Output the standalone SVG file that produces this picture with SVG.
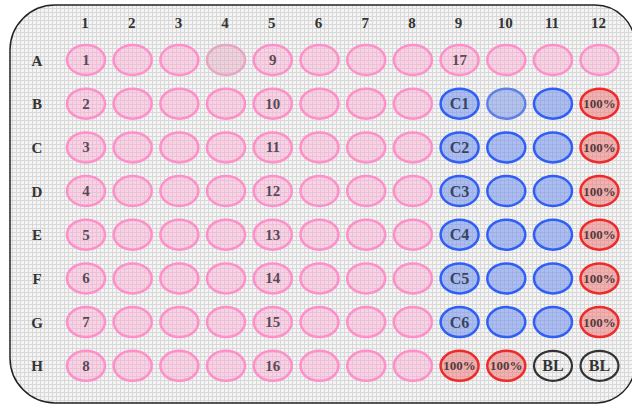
<svg xmlns="http://www.w3.org/2000/svg" width="632" height="404" viewBox="0 0 632 404">
<defs>
<pattern id="grid" width="4" height="4" patternUnits="userSpaceOnUse">
<rect width="4" height="4" fill="#f4f4f4"/>
<path d="M0 0.5H4M0.5 0V4" stroke="#d8d8d8" stroke-width="1"/>
</pattern>
<style>
.hd{font-family:"Liberation Serif",serif;font-weight:bold;font-size:15px;fill:#333;text-anchor:middle}
.wt{font-family:"Liberation Serif",serif;font-weight:bold;font-size:15px;text-anchor:middle;dominant-baseline:central}
.pk{fill:#ffa8d2;fill-opacity:0.45;stroke:#ff8fc8;stroke-width:2.5}
.pg{fill:#e6a8c4;fill-opacity:0.45;stroke:#e8a4c4;stroke-width:2.5}
.bl{fill:#6f8fee;fill-opacity:0.55;stroke:#2f5ff5;stroke-width:2.5}
.bl2{fill:#7f9ae8;fill-opacity:0.55;stroke:#5f80ea;stroke-width:2.5}
.rd{fill:#f07a7a;fill-opacity:0.55;stroke:#ee2a2a;stroke-width:2.5}
.bk{fill:none;stroke:#333;stroke-width:2.2}
.tp{fill:#5a4a55}
.tb{fill:#38445e;font-size:16px}
.tr{fill:#553a3a;font-size:13px}
.tk{fill:#333;font-size:16px}
</style>
</defs>
<rect width="632" height="404" fill="#ffffff"/>
<path id="plate" d="M10 50 A45 45 0 0 1 55 5 L595 5 A40 40 0 0 1 635 45 L635 368 A40 40 0 0 1 597 403 L55 403 A45 45 0 0 1 10 358 Z" fill="url(#grid)" stroke="#222" stroke-width="1.5"/>
<g id="headers">
<text class="hd" x="85" y="28">1</text>
<text class="hd" x="131.7" y="28">2</text>
<text class="hd" x="178.4" y="28">3</text>
<text class="hd" x="225" y="28">4</text>
<text class="hd" x="271.8" y="28">5</text>
<text class="hd" x="318.5" y="28">6</text>
<text class="hd" x="365.2" y="28">7</text>
<text class="hd" x="411.9" y="28">8</text>
<text class="hd" x="458.6" y="28">9</text>
<text class="hd" x="505.3" y="28">10</text>
<text class="hd" x="552" y="28">11</text>
<text class="hd" x="598.5" y="28">12</text>
<text class="hd" x="37" y="65.5">A</text>
<text class="hd" x="37" y="109">B</text>
<text class="hd" x="37" y="153">C</text>
<text class="hd" x="37" y="196.5">D</text>
<text class="hd" x="37" y="240">E</text>
<text class="hd" x="37" y="284">F</text>
<text class="hd" x="37" y="327.5">G</text>
<text class="hd" x="37" y="371">H</text>
</g>
<g id="wells">
<g id="A"><ellipse class="pk" cx="86" cy="60" rx="19" ry="15"/><text class="wt tp" x="86" y="60">1</text>
<ellipse class="pk" cx="132.7" cy="60" rx="19" ry="15"/><ellipse class="pk" cx="179.4" cy="60" rx="19" ry="15"/><ellipse class="pg" cx="226" cy="60" rx="19" ry="15"/>
<ellipse class="pk" cx="272.8" cy="60" rx="19" ry="15"/><text class="wt tp" x="272.8" y="60">9</text>
<ellipse class="pk" cx="319.5" cy="60" rx="19" ry="15"/><ellipse class="pk" cx="366.2" cy="60" rx="19" ry="15"/><ellipse class="pk" cx="412.9" cy="60" rx="19" ry="15"/>
<ellipse class="pk" cx="459.6" cy="60" rx="19" ry="15"/><text class="wt tp" x="459.6" y="60">17</text>
<ellipse class="pk" cx="506.3" cy="60" rx="19" ry="15"/><ellipse class="pk" cx="553" cy="60" rx="19" ry="15"/><ellipse class="pk" cx="599.5" cy="60" rx="19" ry="15"/></g>
<g id="B"><ellipse class="pk" cx="86" cy="103.7" rx="19" ry="15"/><text class="wt tp" x="86" y="103.7">2</text>
<ellipse class="pk" cx="132.7" cy="103.7" rx="19" ry="15"/><ellipse class="pk" cx="179.4" cy="103.7" rx="19" ry="15"/><ellipse class="pk" cx="226" cy="103.7" rx="19" ry="15"/>
<ellipse class="pk" cx="272.8" cy="103.7" rx="19" ry="15"/><text class="wt tp" x="272.8" y="103.7">10</text>
<ellipse class="pk" cx="319.5" cy="103.7" rx="19" ry="15"/><ellipse class="pk" cx="366.2" cy="103.7" rx="19" ry="15"/><ellipse class="pk" cx="412.9" cy="103.7" rx="19" ry="15"/>
<ellipse class="bl" cx="459.6" cy="103.7" rx="19" ry="15"/><text class="wt tb" x="459.6" y="103.7">C1</text>
<ellipse class="bl2" cx="506.3" cy="103.7" rx="19" ry="15"/><ellipse class="bl" cx="553" cy="103.7" rx="19" ry="15"/>
<ellipse class="rd" cx="599.5" cy="103.7" rx="19" ry="15"/><text class="wt tr" x="599.5" y="103.7">100%</text></g>
<g id="C"><ellipse class="pk" cx="86" cy="147.4" rx="19" ry="15"/><text class="wt tp" x="86" y="147.4">3</text>
<ellipse class="pk" cx="132.7" cy="147.4" rx="19" ry="15"/><ellipse class="pk" cx="179.4" cy="147.4" rx="19" ry="15"/><ellipse class="pk" cx="226" cy="147.4" rx="19" ry="15"/>
<ellipse class="pk" cx="272.8" cy="147.4" rx="19" ry="15"/><text class="wt tp" x="272.8" y="147.4">11</text>
<ellipse class="pk" cx="319.5" cy="147.4" rx="19" ry="15"/><ellipse class="pk" cx="366.2" cy="147.4" rx="19" ry="15"/><ellipse class="pk" cx="412.9" cy="147.4" rx="19" ry="15"/>
<ellipse class="bl" cx="459.6" cy="147.4" rx="19" ry="15"/><text class="wt tb" x="459.6" y="147.4">C2</text>
<ellipse class="bl" cx="506.3" cy="147.4" rx="19" ry="15"/><ellipse class="bl" cx="553" cy="147.4" rx="19" ry="15"/>
<ellipse class="rd" cx="599.5" cy="147.4" rx="19" ry="15"/><text class="wt tr" x="599.5" y="147.4">100%</text></g>
<g id="D"><ellipse class="pk" cx="86" cy="191" rx="19" ry="15"/><text class="wt tp" x="86" y="191">4</text>
<ellipse class="pk" cx="132.7" cy="191" rx="19" ry="15"/><ellipse class="pk" cx="179.4" cy="191" rx="19" ry="15"/><ellipse class="pk" cx="226" cy="191" rx="19" ry="15"/>
<ellipse class="pk" cx="272.8" cy="191" rx="19" ry="15"/><text class="wt tp" x="272.8" y="191">12</text>
<ellipse class="pk" cx="319.5" cy="191" rx="19" ry="15"/><ellipse class="pk" cx="366.2" cy="191" rx="19" ry="15"/><ellipse class="pk" cx="412.9" cy="191" rx="19" ry="15"/>
<ellipse class="bl" cx="459.6" cy="191" rx="19" ry="15"/><text class="wt tb" x="459.6" y="191">C3</text>
<ellipse class="bl" cx="506.3" cy="191" rx="19" ry="15"/><ellipse class="bl" cx="553" cy="191" rx="19" ry="15"/>
<ellipse class="rd" cx="599.5" cy="191" rx="19" ry="15"/><text class="wt tr" x="599.5" y="191">100%</text></g>
<g id="E"><ellipse class="pk" cx="86" cy="234.7" rx="19" ry="15"/><text class="wt tp" x="86" y="234.7">5</text>
<ellipse class="pk" cx="132.7" cy="234.7" rx="19" ry="15"/><ellipse class="pk" cx="179.4" cy="234.7" rx="19" ry="15"/><ellipse class="pk" cx="226" cy="234.7" rx="19" ry="15"/>
<ellipse class="pk" cx="272.8" cy="234.7" rx="19" ry="15"/><text class="wt tp" x="272.8" y="234.7">13</text>
<ellipse class="pk" cx="319.5" cy="234.7" rx="19" ry="15"/><ellipse class="pk" cx="366.2" cy="234.7" rx="19" ry="15"/><ellipse class="pk" cx="412.9" cy="234.7" rx="19" ry="15"/>
<ellipse class="bl" cx="459.6" cy="234.7" rx="19" ry="15"/><text class="wt tb" x="459.6" y="234.7">C4</text>
<ellipse class="bl" cx="506.3" cy="234.7" rx="19" ry="15"/><ellipse class="bl" cx="553" cy="234.7" rx="19" ry="15"/>
<ellipse class="rd" cx="599.5" cy="234.7" rx="19" ry="15"/><text class="wt tr" x="599.5" y="234.7">100%</text></g>
<g id="F"><ellipse class="pk" cx="86" cy="278.4" rx="19" ry="15"/><text class="wt tp" x="86" y="278.4">6</text>
<ellipse class="pk" cx="132.7" cy="278.4" rx="19" ry="15"/><ellipse class="pk" cx="179.4" cy="278.4" rx="19" ry="15"/><ellipse class="pk" cx="226" cy="278.4" rx="19" ry="15"/>
<ellipse class="pk" cx="272.8" cy="278.4" rx="19" ry="15"/><text class="wt tp" x="272.8" y="278.4">14</text>
<ellipse class="pk" cx="319.5" cy="278.4" rx="19" ry="15"/><ellipse class="pk" cx="366.2" cy="278.4" rx="19" ry="15"/><ellipse class="pk" cx="412.9" cy="278.4" rx="19" ry="15"/>
<ellipse class="bl" cx="459.6" cy="278.4" rx="19" ry="15"/><text class="wt tb" x="459.6" y="278.4">C5</text>
<ellipse class="bl" cx="506.3" cy="278.4" rx="19" ry="15"/><ellipse class="bl" cx="553" cy="278.4" rx="19" ry="15"/>
<ellipse class="rd" cx="599.5" cy="278.4" rx="19" ry="15"/><text class="wt tr" x="599.5" y="278.4">100%</text></g>
<g id="G"><ellipse class="pk" cx="86" cy="322.1" rx="19" ry="15"/><text class="wt tp" x="86" y="322.1">7</text>
<ellipse class="pk" cx="132.7" cy="322.1" rx="19" ry="15"/><ellipse class="pk" cx="179.4" cy="322.1" rx="19" ry="15"/><ellipse class="pk" cx="226" cy="322.1" rx="19" ry="15"/>
<ellipse class="pk" cx="272.8" cy="322.1" rx="19" ry="15"/><text class="wt tp" x="272.8" y="322.1">15</text>
<ellipse class="pk" cx="319.5" cy="322.1" rx="19" ry="15"/><ellipse class="pk" cx="366.2" cy="322.1" rx="19" ry="15"/><ellipse class="pk" cx="412.9" cy="322.1" rx="19" ry="15"/>
<ellipse class="bl" cx="459.6" cy="322.1" rx="19" ry="15"/><text class="wt tb" x="459.6" y="322.1">C6</text>
<ellipse class="bl" cx="506.3" cy="322.1" rx="19" ry="15"/><ellipse class="bl" cx="553" cy="322.1" rx="19" ry="15"/>
<ellipse class="rd" cx="599.5" cy="322.1" rx="19" ry="15"/><text class="wt tr" x="599.5" y="322.1">100%</text></g>
<g id="H"><ellipse class="pk" cx="86" cy="365.8" rx="19" ry="15"/><text class="wt tp" x="86" y="365.8">8</text>
<ellipse class="pk" cx="132.7" cy="365.8" rx="19" ry="15"/><ellipse class="pk" cx="179.4" cy="365.8" rx="19" ry="15"/><ellipse class="pk" cx="226" cy="365.8" rx="19" ry="15"/>
<ellipse class="pk" cx="272.8" cy="365.8" rx="19" ry="15"/><text class="wt tp" x="272.8" y="365.8">16</text>
<ellipse class="pk" cx="319.5" cy="365.8" rx="19" ry="15"/><ellipse class="pk" cx="366.2" cy="365.8" rx="19" ry="15"/><ellipse class="pk" cx="412.9" cy="365.8" rx="19" ry="15"/>
<ellipse class="rd" cx="459.6" cy="365.8" rx="19" ry="15"/><text class="wt tr" x="459.6" y="365.8">100%</text>
<ellipse class="rd" cx="506.3" cy="365.8" rx="19" ry="15"/><text class="wt tr" x="506.3" y="365.8">100%</text>
<ellipse class="bk" cx="553" cy="365.8" rx="19" ry="15"/><text class="wt tk" x="553" y="365.8">BL</text>
<ellipse class="bk" cx="599.5" cy="365.8" rx="19" ry="15"/><text class="wt tk" x="599.5" y="365.8">BL</text></g>
</g>
<g id="connectors"/>
</svg>
